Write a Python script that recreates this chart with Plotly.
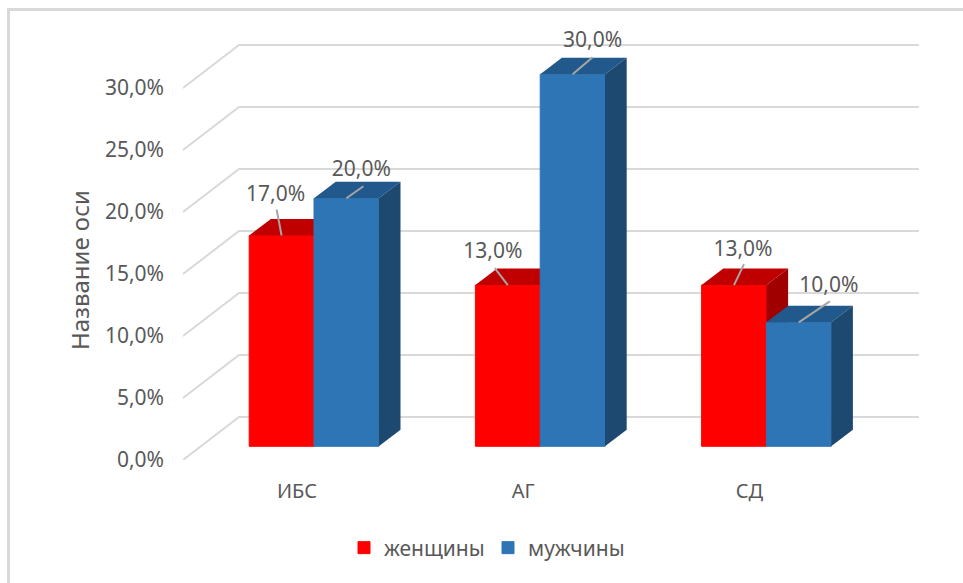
import plotly.graph_objects as go

# Chart data
categories = ["ИБС", "АГ", "СД"]
women = [17.0, 13.0, 13.0]
men = [20.0, 30.0, 10.0]
y_ticks = [0, 5, 10, 15, 20, 25, 30]
y_tick_labels = ["0,0%", "5,0%", "10,0%", "15,0%", "20,0%", "25,0%", "30,0%"]
series_names = ["женщины", "мужчины"]
axis_title = "Название оси"

# Canvas geometry (px)
WIDTH, HEIGHT = 963, 583
PLOT_L, PLOT_R, PLOT_T, PLOT_B = 183, 919, 30, 460
PX_PER_CAT = 226.2
PX_PER_PCT = 12.4
CAT0_PX = 297.0

X_RANGE = [(PLOT_L - CAT0_PX) / PX_PER_CAT, (PLOT_R - CAT0_PX) / PX_PER_CAT]
Y_RANGE = [0, (PLOT_B - PLOT_T) / PX_PER_PCT]


def dx(px):
    return px / PX_PER_CAT


def dy(px):
    return px / PX_PER_PCT


# Oblique projection offsets
WALL_DX, WALL_DY = dx(56), dy(43)
BAR_DX, BAR_DY = dx(17), dy(13.7)
DEPTH_DX, DEPTH_DY = dx(21.7), dy(16.5)
BAR_W = dx(64.8)

RED, RED_TOP, RED_SIDE = "#FF0000", "#C00000", "#A00000"
BLUE, BLUE_TOP, BLUE_SIDE = "#2E75B6", "#22598C", "#1D4971"
TEXT = "#595959"
GRID = "#D9D9D9"
LEADER = "#A6A6A6"
FONT = "Noto Sans"

# Leader tip and label centre relative to the top-front centre of each bar (px)
LEADER_TIPS = {
    "women": [(-5, 26), (-13, 17), (10, 21)],
    "men": [(17, 12), (20, 17), (31, 21)],
}
LABEL_SHIFTS = {
    "women": [(-6, 40), (-15, 32), (9, 34)],
    "men": [(15, 28), (20, 33), (30, 36)],
}

fig = go.Figure()


def add_series(name, values, side_sign, color, top_color, side_color, yaxis):
    centers = [i + BAR_DX + side_sign * BAR_W / 2 for i in range(len(values))]
    fig.add_trace(go.Bar(
        x=centers, y=values, base=BAR_DY, width=BAR_W, name=name,
        marker=dict(color=color, line=dict(color=color, width=1)),
        yaxis=yaxis, hoverinfo="skip",
    ))
    for xc, v in zip(centers, values):
        left, right = xc - BAR_W / 2, xc + BAR_W / 2
        top = v + BAR_DY
        # top face
        fig.add_trace(go.Scatter(
            x=[left, right, right + DEPTH_DX, left + DEPTH_DX, left],
            y=[top, top, top + DEPTH_DY, top + DEPTH_DY, top],
            mode="lines", fill="toself", fillcolor=top_color, line=dict(width=0),
            yaxis=yaxis, showlegend=False, hoverinfo="skip",
        ))
        # side face
        fig.add_trace(go.Scatter(
            x=[right, right + DEPTH_DX, right + DEPTH_DX, right, right],
            y=[BAR_DY, BAR_DY + DEPTH_DY, top + DEPTH_DY, top, BAR_DY],
            mode="lines", fill="toself", fillcolor=side_color, line=dict(width=0),
            yaxis=yaxis, showlegend=False, hoverinfo="skip",
        ))


add_series(series_names[0], women, -1, RED, RED_TOP, RED_SIDE, "y")
add_series(series_names[1], men, 1, BLUE, BLUE_TOP, BLUE_SIDE, "y2")

# Data labels with leader lines sit on the uppermost layer
for key, values, sign in (("women", women, -1), ("men", men, 1)):
    for i, v in enumerate(values):
        xc = i + BAR_DX + sign * BAR_W / 2
        top = v + BAR_DY
        tip = LEADER_TIPS[key][i]
        shift = LABEL_SHIFTS[key][i]
        fig.add_trace(go.Scatter(
            x=[xc, xc + dx(tip[0])], y=[top, top + dy(tip[1])],
            mode="lines", line=dict(color=LEADER, width=2),
            yaxis="y2", showlegend=False, hoverinfo="skip",
        ))
        fig.add_trace(go.Scatter(
            x=[xc + dx(shift[0])], y=[top + dy(shift[1])],
            mode="text", text=[f"{v:.1f}%".replace(".", ",")],
            textposition="middle center",
            textfont=dict(family=FONT, size=21, color=TEXT),
            cliponaxis=False, yaxis="y2", showlegend=False, hoverinfo="skip",
        ))

# Back wall gridlines with their diagonal run on the floor side
shapes = []
for t in y_ticks:
    x0, x1 = X_RANGE
    shapes.append(dict(
        type="path", xref="x", yref="y", layer="below",
        path=f"M {x0} {t} L {x0 + WALL_DX} {t + WALL_DY} L {x1} {t + WALL_DY}",
        line=dict(color=GRID, width=2),
    ))

# Chart area frame running off the right and bottom edges
plot_w, plot_h = PLOT_R - PLOT_L, PLOT_B - PLOT_T


def paper_x(px):
    return (px - PLOT_L) / plot_w


def paper_y(px):
    return (PLOT_B - px) / plot_h


shapes.append(dict(
    type="path", xref="paper", yref="paper", layer="below",
    path=(f"M {paper_x(8.5)} {paper_y(HEIGHT + 5)} L {paper_x(8.5)} {paper_y(9.5)} "
          f"L {paper_x(WIDTH + 5)} {paper_y(9.5)}"),
    line=dict(color="#D9D9D9", width=3),
))

fig.update_layout(
    width=WIDTH, height=HEIGHT, autosize=False,
    margin=dict(l=PLOT_L, r=WIDTH - PLOT_R, t=PLOT_T, b=HEIGHT - PLOT_B, autoexpand=False),
    paper_bgcolor="white", plot_bgcolor="rgba(0,0,0,0)",
    barmode="overlay",
    font=dict(family=FONT, color=TEXT),
    shapes=shapes,
    annotations=[dict(
        text=axis_title, textangle=-90, xref="paper", yref="paper",
        x=paper_x(79), y=paper_y(270), xanchor="center", yanchor="middle",
        showarrow=False, font=dict(family=FONT, size=24, color=TEXT),
    )],
    xaxis=dict(
        range=X_RANGE, tickvals=list(range(len(categories))), ticktext=categories,
        showgrid=False, zeroline=False, showline=False, ticks="",
        tickfont=dict(family=FONT, size=20, color=TEXT), ticklabelstandoff=17,
    ),
    yaxis=dict(
        range=Y_RANGE, tickvals=y_ticks, ticktext=y_tick_labels,
        showgrid=False, zeroline=False, showline=False, ticks="",
        tickfont=dict(family=FONT, size=21, color=TEXT), ticklabelstandoff=18,
    ),
    yaxis2=dict(range=Y_RANGE, overlaying="y", visible=False),
    legend=dict(
        orientation="h", x=paper_x(344), y=paper_y(548), xanchor="left", yanchor="middle",
        font=dict(family=FONT, size=21, color=TEXT),
        entrywidth=99, entrywidthmode="pixels", traceorder="normal",
    ),
    showlegend=True,
)

fig.write_html("out.html")
